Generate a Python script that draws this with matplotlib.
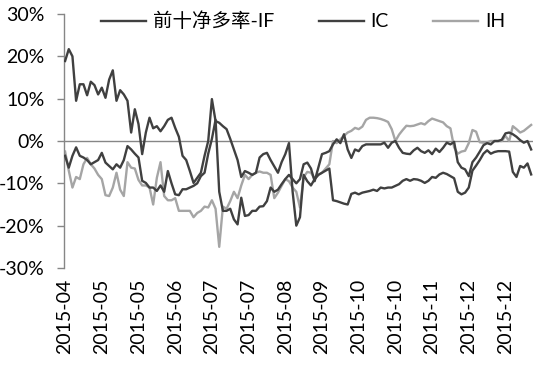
import matplotlib
matplotlib.use("Agg")
import matplotlib.pyplot as plt
import numpy as np

plt.rcParams['font.family'] = ['Lato', 'Noto Sans CJK SC', 'DejaVu Sans']

# Tick labels (one label every 10 observations)
tick_labels = ["2015-04", "2015-05", "2015-05", "2015-06", "2015-07", "2015-07",
               "2015-08", "2015-09", "2015-10", "2015-10", "2015-11", "2015-12", "2015-12"]

series_names = ["前十净多率-IF", "IC", "IH"]

# Net long ratio of top-10 holders (%)
IF = [18.9, 21.7, 20.0, 9.5, 13.4, 13.4, 10.8, 14.0, 13.2, 11.0,
      12.6, 10.2, 14.5, 16.7, 9.5, 12.0, 11.0, 9.5, 2.0, 7.5,
      4.0, -3.1, 2.0, 5.5, 3.0, 3.5, 2.3, 3.5, 5.0, 5.5,
      3.1, 1.0, -3.5, -4.5, -7.1, -9.9, -8.7, -7.5, -3.5, 0.0,
      9.9, 4.7, 4.3, 3.5, 2.8, 0.5, -2.0, -4.5, -8.5, -7.1,
      -7.5, -8.0, -7.5, -3.9, -3.1, -2.8, -4.5, -6.0, -7.5, -5.0,
      -3.1, -0.5, -12.0, -20.0, -18.0, -8.0, -9.5, -10.5, -9.0, -8.0,
      -7.5, -7.0, -6.5, -14.0, -14.2, -14.5, -14.8, -15.0, -12.5, -12.2,
      -12.6, -12.2, -12.0, -11.8, -11.5, -11.8, -11.0, -11.2, -11.0, -11.0,
      -10.6, -10.2, -9.4, -9.0, -9.4, -9.0, -9.1, -9.4, -9.9, -9.4,
      -8.5, -8.7, -7.9, -7.5, -7.8, -8.3, -8.8, -12.0, -12.6, -12.2,
      -11.0, -7.0, -5.8, -4.5, -3.0, -2.2, -3.0, -2.6, -2.4, -2.4,
      -2.4, -2.5, -7.3, -8.5, -5.9, -6.3, -5.3, -7.9]

IC = [-3.5, -6.3, -3.5, -1.5, -3.5, -3.9, -4.5, -5.5, -5.0, -4.5,
      -2.8, -5.1, -5.9, -6.7, -5.5, -6.3, -4.5, -1.2, -2.0, -3.0,
      -3.9, -9.4, -9.9, -11.0, -11.0, -11.8, -10.5, -12.0, -7.1, -10.0,
      -12.6, -12.8, -11.4, -11.4, -11.0, -10.6, -10.0, -8.3, -7.5, -3.0,
      0.5, 5.0, -12.0, -16.5, -16.5, -16.0, -18.5, -19.7, -13.4, -17.7,
      -17.5, -16.5, -16.5, -15.5, -15.4, -14.2, -11.0, -12.0, -11.5, -10.2,
      -9.0, -8.0, -9.0, -10.0, -9.0, -5.5, -5.1, -6.5, -9.5, -6.3,
      -3.1, -2.8, -2.4, -0.8, 0.4, -0.5, 1.6, -2.0, -4.0, -2.0,
      -2.4, -1.2, -0.8, -0.8, -0.8, -0.8, -0.8, -0.4, -1.6, -0.4,
      0.0, -1.6, -2.8, -3.0, -3.1, -2.2, -1.6, -2.4, -2.8, -2.2,
      -3.1, -1.8, -2.6, -1.6, -0.4, -0.8, -0.2, -5.0, -6.3, -6.7,
      -8.3, -5.0, -3.9, -2.5, -1.0, -0.5, -0.8, 0.0, 0.0, 0.3,
      1.8, 2.0, 1.6, 1.0, 0.2, -0.4, 0.0, -2.0]

IH = [-2.5, -7.0, -11.0, -8.5, -9.0, -5.5, -4.0, -5.5, -6.5, -8.0,
      -9.0, -12.8, -13.0, -11.0, -7.5, -11.5, -13.0, -5.0, -6.3, -6.5,
      -9.2, -10.5, -10.5, -11.0, -15.0, -8.7, -5.0, -13.0, -14.0, -14.0,
      -13.5, -16.5, -16.5, -16.5, -16.5, -18.0, -17.0, -16.5, -15.5, -15.7,
      -14.0, -16.0, -25.0, -15.5, -16.0, -14.2, -12.0, -13.5, -10.5, -8.0,
      -9.0, -8.0, -7.5, -7.2, -7.5, -7.5, -8.0, -13.5, -12.2, -10.6,
      -9.0, -9.5, -11.0, -12.0, -15.7, -8.5, -7.3, -7.5, -9.0, -8.0,
      -7.5, -6.5, -5.5, 0.0, -0.5, 0.4, 1.2, 2.0, 2.4, 3.1,
      2.8, 3.4, 5.0, 5.5, 5.5, 5.4, 5.2, 4.9, 4.5, 2.8,
      0.0, 1.5, 2.6, 3.6, 3.5, 3.6, 3.9, 4.2, 3.9, 4.7,
      5.3, 5.0, 4.7, 4.4, 3.5, 3.0, -1.5, -3.0, -2.5, -2.3,
      -0.5, 2.6, 2.2, -0.3, -0.4, -0.3, 0.0, 0.0, 0.0, 0.0,
      1.2, 0.0, 3.5, 2.8, 2.0, 2.4, 3.1, 3.8]

y_ticks = [-30, -20, -10, 0, 10, 20, 30]
tick_step = 10

W, H = 541, 367
fig = plt.figure(figsize=(W / 100, H / 100), dpi=100)
ax = fig.add_axes([64 / W, (H - 268) / H, (533 - 64) / W, (268 - 14) / H])

x = np.arange(len(IF))
dark = "#404040"
light = "#a5a5a5"
ax.plot(x, IF, color=dark, lw=1.7, label=series_names[0], zorder=3)
ax.plot(x, IC, color=dark, lw=1.7, label=series_names[1], zorder=3)
ax.plot(x, IH, color=light, lw=1.7, label=series_names[2], zorder=2)

ax.axhline(0, color="#868686", lw=1.0, zorder=1)

ax.set_ylim(-30, 30)
ax.set_xlim(-0.3, len(IF) - 0.5)
ax.set_yticks(y_ticks)
ax.set_yticklabels([f"{v}%" for v in y_ticks])
ax.set_xticks(np.arange(0, len(tick_labels) * tick_step, tick_step))
ax.set_xticklabels(tick_labels, rotation=90)

for s in ["top", "right", "bottom"]:
    ax.spines[s].set_visible(False)
ax.spines["left"].set_color("#868686")
ax.spines["left"].set_linewidth(1.0)
ax.tick_params(axis="y", direction="out", length=5, width=1, color="#868686",
               pad=9, labelsize=14, labelcolor="#000000")
ax.tick_params(axis="x", length=0, pad=8, labelsize=14, labelcolor="#000000")

leg = ax.legend(loc="upper center", bbox_to_anchor=(0.51, 1.04), ncol=3, frameon=False,
                fontsize=14, handlelength=2.3, handletextpad=0.35, columnspacing=2.3,
                borderaxespad=0)

fig.savefig("out.png", dpi=100)
